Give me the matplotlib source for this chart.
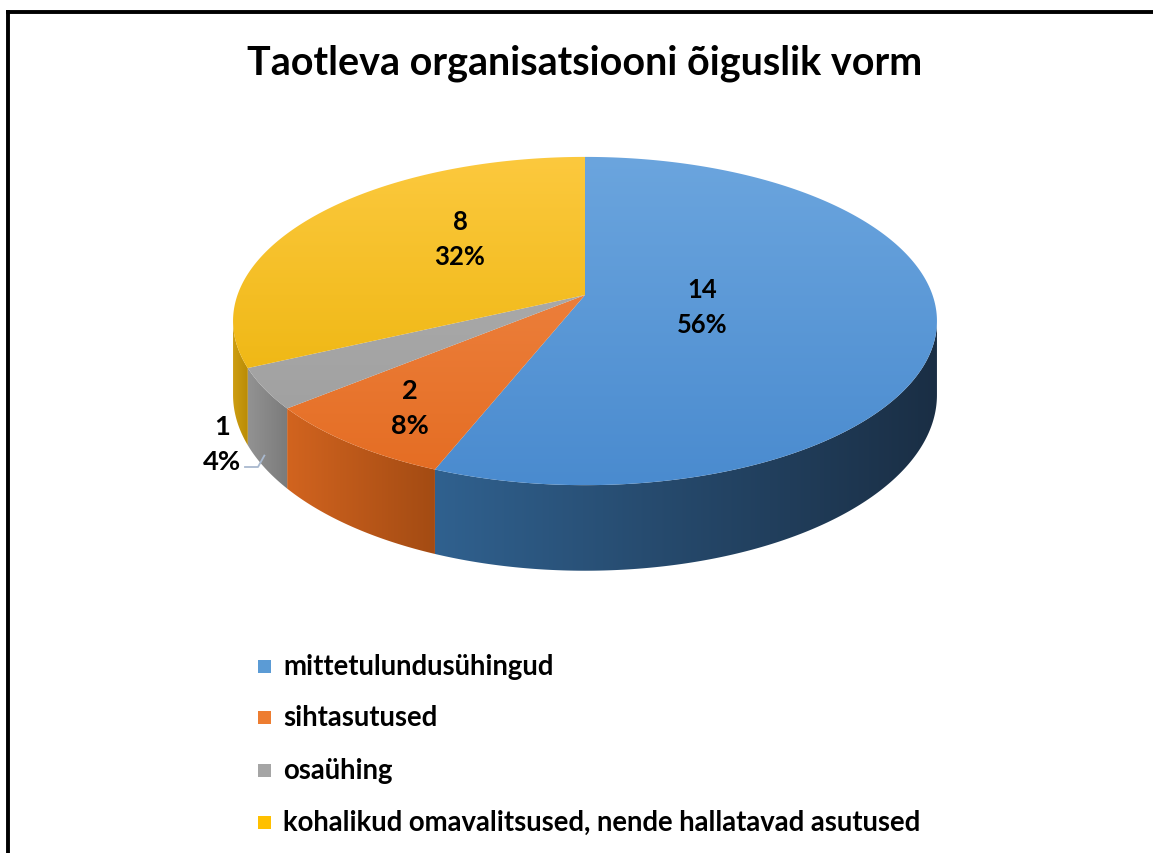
import numpy as np
import matplotlib
matplotlib.use("Agg")
import matplotlib.pyplot as plt
from matplotlib.patches import Polygon
from matplotlib.colors import to_rgb

# ---------------- data ----------------
title = "Taotleva organisatsiooni õiguslik vorm"
categories = ["mittetulundusühingud", "sihtasutused", "osaühing",
              "kohalikud omavalitsused, nende hallatavad asutused"]
values = [14, 2, 1, 8]

# ---------------- style ----------------
top_light = ["#6ba5de", "#f28c4c", "#b2b2b2", "#fcc93e"]
top_dark = ["#4a8bcf", "#e46c22", "#9c9c9c", "#e9af00"]
wall_left = ["#30618f", "#d2641f", "#939393", "#cf9f12"]
wall_right = ["#1a2e44", "#a34b13", "#7a7a7a", "#b88a05"]
legend_cols = ["#5b9bd5", "#ed7d31", "#a5a5a5", "#ffc000"]
FONT = "Lato"

W, H = 1153, 854
fig = plt.figure(figsize=(W / 100, H / 100), dpi=100)
ax = fig.add_axes([0, 0, 1, 1])
ax.set_xlim(0, W)
ax.set_ylim(H, 0)
ax.axis("off")

# perspective pie geometry (screen pixels)
CX, CY, A, B, K, DEPTH = 585, 296, 347.5, 160, 0.1586, 72


def proj(phi, r=1.0, z=0.0):
    x, y = r * np.sin(phi), r * np.cos(phi)
    s = 1.0 / (1.0 + K * y)
    return CX + A * x * s, CY - B * y * s + z * DEPTH * s


def gradient_fill(poly, c0, c1, extent, horizontal):
    c0, c1 = np.array(to_rgb(c0)), np.array(to_rgb(c1))
    g = np.linspace(0, 1, 256)
    cols = c0[None, :] * (1 - g[:, None]) + c1[None, :] * g[:, None]
    img = cols[None, :, :] if horizontal else cols[:, None, :]
    im = ax.imshow(img, extent=extent, aspect="auto",
                   interpolation="bilinear", zorder=2)
    im.set_clip_path(poly)


total = sum(values)
fracs = [v / total for v in values]
starts = np.concatenate([[0], np.cumsum(fracs)[:-1]]) * 2 * np.pi
ends = np.cumsum(fracs) * 2 * np.pi

vis_lo = np.pi / 2 + np.arcsin(K)
vis_hi = 3 * np.pi / 2 - np.arcsin(K)

# walls
for i in range(len(values)):
    a0, a1 = max(starts[i], vis_lo), min(ends[i], vis_hi)
    if a1 <= a0:
        continue
    t = np.linspace(a0, a1, 200)
    xt, yt = proj(t)
    xb, yb = proj(t, z=1)
    px = np.r_[xt, xb[::-1]]
    py = np.r_[yt, yb[::-1]]
    poly = Polygon(np.column_stack([px, py]), closed=True,
                   facecolor="none", edgecolor="none")
    ax.add_patch(poly)
    gradient_fill(poly, wall_left[i], wall_right[i],
                  (px.min() - 1, px.max() + 1, py.max() + 1, py.min() - 1), True)

# top faces with gradient
ys_top = CY - B / (1 + K)
ys_bot = CY + B / (1 - K)
for i in range(len(values)):
    t = np.linspace(starts[i], ends[i], 300)
    xs, ys = proj(t)
    poly = Polygon(np.column_stack([np.r_[CX, xs], np.r_[CY, ys]]), closed=True,
                   facecolor="none", edgecolor="none")
    ax.add_patch(poly)
    gradient_fill(poly, top_light[i], top_dark[i],
                  (CX - A * 1.1, CX + A * 1.1, ys_bot, ys_top), False)

ax.set_xlim(0, W)
ax.set_ylim(H, 0)

renderer = fig.canvas.get_renderer()


def fit(txt, target):
    w = txt.get_window_extent(renderer).width
    txt.set_fontsize(txt.get_fontsize() * target / w)


# title
tt = ax.text(584.5, 63, title, ha="center", va="center", fontsize=28,
             fontweight="bold", family=FONT, color="black")
fit(tt, 675)

# data labels
label_pos = [(702, 308), (410, 409), (222, 445), (460, 240)]
pct_width = [51, 38, 38, 51]
for i, (lx, ly) in enumerate(label_pos):
    pct = round(100 * fracs[i])
    t1 = ax.text(lx, ly - 17.5, f"{values[i]}", ha="center", va="center",
                 fontsize=15, fontweight="bold", family=FONT, zorder=5)
    t2 = ax.text(lx, ly + 17.5, f"{pct}%", ha="center", va="center",
                 fontsize=15, fontweight="bold", family=FONT, zorder=5)
    fit(t2, pct_width[i])
    t1.set_fontsize(t2.get_fontsize())

# leader line for small slice
gx, gy = proj((starts[2] + ends[2]) / 2, r=1.0, z=0.85)
ax.plot([245, 258, gx], [468, 468, gy], color="#a9b9cf", lw=1.3, zorder=4)

# legend
leg_y = [667, 718, 771, 823]
leg_texts = []
for i, cat in enumerate(categories):
    ax.add_patch(plt.Rectangle((258, leg_y[i] - 6.5), 13, 13,
                               facecolor=legend_cols[i], edgecolor="none"))
    leg_texts.append(ax.text(283, leg_y[i], cat, ha="left", va="center",
                             fontsize=17, fontweight="bold", family=FONT))
fit(leg_texts[3], 642)
for t in leg_texts[:3]:
    t.set_fontsize(leg_texts[3].get_fontsize())

# frame (left + top)
ax.plot([8, 8], [H + 5, 12.5], color="black", lw=2.8, solid_capstyle="projecting")
ax.plot([8, W + 5], [12.5, 12.5], color="black", lw=2.8, solid_capstyle="projecting")

fig.savefig("out.png", dpi=100)
